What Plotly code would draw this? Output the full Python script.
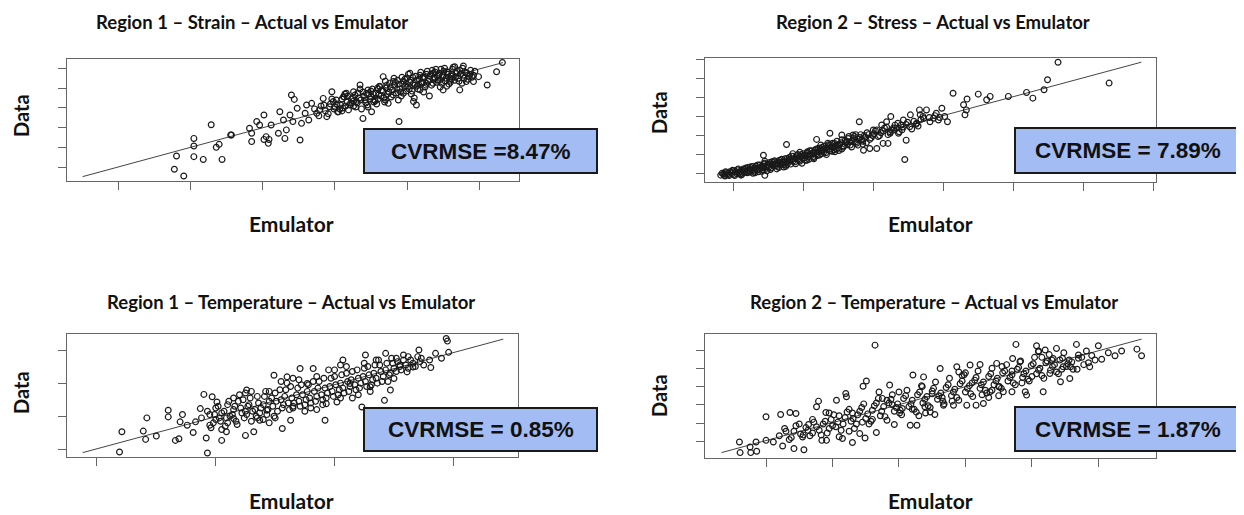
import plotly.graph_objects as go

# page has an 8px body margin, so the figure is 8px smaller on each axis and offset
OFF = 8
W, H = 1236, 507

titles = ["Region 1 – Strain – Actual vs Emulator",
          "Region 2 – Stress – Actual vs Emulator",
          "Region 1 – Temperature – Actual vs Emulator",
          "Region 2 – Temperature – Actual vs Emulator"]
cvrmse_labels = ["CVRMSE =8.47%", "CVRMSE = 7.89%", "CVRMSE = 0.85%", "CVRMSE = 1.87%"]

# (emulator, data) pairs, in tick units
strain_r1 = [
    (0.78, -0.10), (0.91, -0.44), (0.81, 0.57), (1.05, 1.46), (1.05, 1.08), (1.05, 0.54), (1.18, 0.40),
    (1.29, 2.15), (1.36, 1.01), (1.40, 1.16), (1.44, 0.40), (1.56, 1.63), (1.57, 1.63), (1.82, 1.97),
    (1.85, 1.72), (1.85, 1.30), (1.92, 2.31), (1.96, 2.14), (2.02, 2.64), (2.02, 1.41), (2.05, 1.55),
    (2.08, 1.21), (2.09, 1.41), (2.12, 2.14), (2.22, 1.72), (2.24, 2.81), (2.29, 2.39), (2.31, 1.46),
    (2.33, 1.89), (2.38, 2.64), (2.40, 3.65), (2.42, 2.31), (2.44, 3.43), (2.48, 2.98), (2.52, 1.38),
    (2.54, 2.22), (2.59, 2.73), (2.61, 3.15), (2.64, 2.39), (2.68, 3.23), (2.75, 2.73), (2.79, 2.90),
    (2.84, 3.48), (2.89, 2.56), (2.93, 3.06), (2.96, 3.82), (2.98, 3.32), (3.05, 2.81), (3.12, 3.57),
    (3.16, 3.74), (3.21, 3.15), (3.26, 3.82), (3.30, 3.32), (3.35, 4.16), (3.39, 2.47), (3.44, 3.74),
    (3.51, 2.81), (3.55, 3.40), (3.62, 4.07), (3.67, 4.58), (3.74, 3.23), (3.81, 4.33), (3.89, 2.31),
    (3.95, 3.74), (3.99, 4.24), (4.04, 4.75), (4.09, 3.32), (4.13, 3.15), (4.18, 3.91), (4.22, 4.58),
    (4.27, 4.24), (4.31, 3.60), (4.36, 4.75), (4.45, 4.41), (4.50, 3.91), (4.55, 4.83), (4.62, 4.49),
    (4.66, 5.08), (4.73, 3.91), (4.78, 5.12), (4.82, 4.33), (4.92, 4.33), (4.99, 4.58), (5.11, 4.16),
    (5.24, 4.83), (5.32, 5.29),
    (2.72, 2.95), (2.78, 2.60), (2.81, 3.10), (2.87, 2.85), (2.91, 2.70), (2.94, 3.20), (2.99, 2.95),
    (3.02, 3.40), (3.04, 2.80), (3.08, 3.15), (3.11, 3.00), (3.13, 3.55), (3.17, 3.30), (3.19, 2.90),
    (3.23, 3.45), (3.26, 3.10), (3.28, 3.65), (3.31, 3.25), (3.34, 3.50), (3.37, 2.95), (3.39, 3.80),
    (3.42, 3.40), (3.45, 3.15), (3.47, 3.70), (3.50, 3.55), (3.52, 3.95), (3.54, 3.30), (3.57, 3.75),
    (3.60, 3.45), (3.62, 4.10), (3.64, 3.60), (3.67, 3.85), (3.69, 3.30), (3.71, 4.00), (3.73, 3.70),
    (3.76, 4.25), (3.78, 3.55), (3.80, 3.90), (3.83, 4.15), (3.85, 3.75), (3.87, 4.40), (3.90, 3.95),
    (3.92, 3.60), (3.94, 4.20), (3.97, 4.45), (3.99, 3.85), (4.01, 4.05), (4.04, 4.30), (4.06, 3.70),
    (4.08, 4.55), (4.11, 4.15), (4.13, 4.40), (4.15, 3.95), (4.18, 4.65), (4.20, 4.25), (4.22, 4.50),
    (4.25, 4.05), (4.27, 4.70), (4.29, 4.35), (4.32, 4.60), (4.34, 4.15), (4.37, 4.45), (4.39, 4.80),
    (4.41, 4.30), (4.44, 4.65), (4.46, 4.05), (4.49, 4.55), (4.51, 4.85), (4.53, 4.35), (4.56, 4.70),
    (4.58, 4.20), (4.61, 4.60), (4.63, 4.95), (4.66, 4.40), (4.68, 4.75), (4.71, 4.50), (4.73, 4.90),
    (4.76, 4.25), (4.78, 4.65), (4.81, 4.80), (4.84, 4.45), (4.87, 4.70), (4.90, 4.55), (4.94, 4.85),
    (3.35, 3.95), (3.58, 3.20), (3.88, 3.40), (4.02, 4.70), (4.23, 3.80), (4.47, 4.95), (3.46, 3.05),
    (3.14, 3.70), (2.96, 3.45), (3.70, 4.35), (4.10, 3.50), (4.55, 4.10),
]
strain_r1_more = [
    (3.03, 3.20), (3.07, 2.95), (3.10, 3.45), (3.15, 3.10), (3.18, 3.60), (3.22, 3.25), (3.25, 3.50),
    (3.29, 3.05), (3.32, 3.75), (3.36, 3.40), (3.40, 3.60), (3.43, 3.25), (3.46, 3.90), (3.49, 3.45),
    (3.53, 3.70), (3.56, 3.35), (3.59, 4.00), (3.61, 3.65), (3.65, 3.90), (3.68, 3.50), (3.72, 4.15),
    (3.75, 3.80), (3.77, 4.05), (3.81, 3.65), (3.84, 4.30), (3.86, 3.95), (3.89, 4.20), (3.91, 3.80),
    (3.95, 4.35), (3.98, 4.10), (4.00, 4.50), (4.03, 3.95), (4.05, 4.40), (4.09, 4.25), (4.12, 4.60),
    (4.14, 4.10), (4.17, 4.45), (4.19, 4.80), (4.21, 4.30), (4.24, 4.55), (4.26, 4.15), (4.28, 4.85),
    (4.31, 4.45), (4.33, 4.70), (4.36, 4.25), (4.38, 4.55), (4.40, 4.95), (4.43, 4.40), (4.45, 4.75),
    (4.48, 4.25), (4.50, 4.65), (4.52, 5.00), (4.54, 4.50), (4.57, 4.80), (4.59, 4.40), (4.62, 4.70),
    (4.64, 5.05), (4.67, 4.55), (4.69, 4.85), (4.72, 4.35), (4.74, 4.70), (4.77, 5.00), (4.79, 4.50),
    (4.83, 4.75), (4.86, 4.60), (4.88, 4.90), (4.92, 4.65), (3.60, 3.95), (3.82, 4.50), (4.07, 3.85),
    (4.35, 4.90), (4.60, 4.30), (3.93, 4.55), (4.16, 4.20), (4.42, 4.60), (3.70, 3.40), (3.50, 3.85),
    (3.26, 3.35), (3.00, 3.05), (2.85, 3.15), (3.10, 2.85),
]

stress_r2 = [
    (4.64, 5.86), (5.37, 4.76), (4.49, 4.94), (4.44, 4.41), (4.19, 4.27), (4.28, 3.97), (3.93, 4.06),
    (3.67, 4.06), (3.62, 3.88), (3.50, 4.18), (3.34, 3.92), (3.29, 3.62), (3.33, 3.35), (3.31, 3.09),
    (3.14, 4.23), (3.06, 2.73), (2.98, 3.44), (2.90, 3.17), (2.76, 3.35), (2.71, 3.00), (2.66, 3.35),
    (2.53, 3.09), (2.45, 0.74), (2.47, 1.76), (2.40, 2.56), (2.36, 2.12), (2.25, 3.00), (2.24, 2.12),
    (2.21, 1.59), (2.14, 1.59), (2.05, 1.32), (1.95, 1.32), (1.86, 1.23), (1.80, 2.73), (2.00, 2.29),
    (2.12, 2.56), (2.33, 2.38), (2.52, 2.47), (2.62, 2.65), (2.67, 3.09), (2.81, 2.73), (2.86, 2.91),
    (2.93, 2.82), (3.02, 3.00), (2.19, 2.73), (2.29, 2.29), (2.43, 2.82), (1.62, 1.68), (1.71, 2.03),
    (1.55, 2.03), (1.38, 2.12), (1.19, 1.80), (0.76, 1.53), (0.43, 0.97), (0.45, -0.09),
    (-0.18, -0.08), (-0.14, -0.02), (-0.12, -0.12), (-0.10, 0.05), (-0.07, -0.05), (-0.05, 0.10),
    (-0.02, 0.00), (0.00, 0.15), (0.02, -0.10), (0.04, 0.08), (0.06, 0.20), (0.08, 0.02), (0.10, 0.12),
    (0.12, -0.05), (0.14, 0.25), (0.16, 0.10), (0.18, 0.30), (0.20, 0.05), (0.22, 0.18), (0.24, 0.35),
    (0.26, 0.15), (0.28, 0.02), (0.30, 0.28), (0.32, 0.40), (0.34, 0.20), (0.36, 0.10), (0.38, 0.45),
    (0.40, 0.30), (0.42, 0.22), (0.44, 0.50), (0.46, 0.35), (0.48, 0.15), (0.50, 0.42), (0.52, 0.58),
    (0.54, 0.30), (0.56, 0.48), (0.58, 0.62), (0.60, 0.40), (0.62, 0.25), (0.64, 0.55), (0.66, 0.70),
    (0.68, 0.45), (0.70, 0.60), (0.72, 0.35), (0.74, 0.78), (0.76, 0.55), (0.78, 0.68), (0.80, 0.85),
    (0.82, 0.50), (0.84, 0.75), (0.86, 0.92), (0.88, 0.62), (0.90, 0.80), (0.92, 1.00), (0.94, 0.70),
    (0.96, 0.88), (0.98, 0.55), (1.00, 1.05), (1.02, 0.82), (1.04, 0.95), (1.06, 1.15), (1.08, 0.75),
    (1.10, 1.00), (1.12, 1.20), (1.14, 0.90), (1.16, 1.10), (1.18, 1.28), (1.20, 0.95), (1.22, 1.15),
    (1.24, 1.35), (1.26, 1.05), (1.28, 1.25), (1.30, 1.45), (1.32, 1.10), (1.34, 1.30), (1.36, 1.52),
    (1.38, 1.20), (1.40, 1.40), (1.42, 1.60), (1.44, 1.25), (1.46, 1.45), (1.48, 1.70), (1.50, 1.35),
    (1.52, 1.55), (1.55, 1.78), (1.58, 1.45), (1.61, 1.65), (1.64, 1.85), (1.67, 1.50), (1.70, 1.72),
    (1.73, 1.95), (1.76, 1.60), (1.79, 1.82), (1.82, 2.05), (1.85, 1.70), (1.88, 1.90), (1.91, 2.15),
    (1.95, 1.80), (1.99, 2.00), (2.03, 2.25), (2.07, 1.95), (2.11, 2.15), (2.16, 2.40), (2.21, 2.05),
    (2.26, 2.30), (2.31, 2.55), (2.37, 2.20), (2.43, 2.45), (2.49, 2.70), (2.55, 2.35), (2.61, 2.60),
    (2.68, 2.85), (0.10, -0.02), (0.30, 0.12), (0.55, 0.62), (0.75, 0.45), (0.95, 1.12), (1.15, 0.85),
    (1.35, 1.60), (1.55, 1.30), (1.75, 2.05), (0.45, 0.65), (0.65, 0.32), (0.85, 1.05), (1.05, 0.70),
    (1.25, 1.50), (1.45, 1.15), (1.65, 1.95), (1.85, 1.55),
]
stress_r2_more = [
    (-0.16, 0.02), (-0.13, -0.08), (-0.11, 0.10), (-0.08, 0.00), (-0.06, -0.10), (-0.03, 0.06),
    (-0.01, 0.18), (0.01, -0.04), (0.03, 0.12), (0.05, 0.00), (0.07, 0.25), (0.09, 0.08), (0.11, -0.08),
    (0.13, 0.18), (0.15, 0.04), (0.17, 0.22), (0.19, 0.12), (0.21, 0.32), (0.23, 0.08), (0.25, 0.25),
    (0.27, 0.38), (0.29, 0.18), (0.31, 0.05), (0.33, 0.30), (0.35, 0.45), (0.37, 0.22), (0.39, 0.35),
    (0.41, 0.12), (0.43, 0.40), (0.45, 0.55), (0.47, 0.28), (0.49, 0.48), (0.51, 0.35), (0.53, 0.22),
    (0.55, 0.52), (0.57, 0.40), (0.59, 0.68), (0.61, 0.50), (0.63, 0.38), (0.65, 0.62), (0.67, 0.52),
    (0.69, 0.75), (0.71, 0.48), (0.73, 0.62), (0.75, 0.38), (0.77, 0.80), (0.79, 0.58), (0.81, 0.72),
    (0.83, 0.92), (0.85, 0.65), (0.87, 0.80), (0.89, 0.52), (0.91, 0.95), (0.93, 0.78), (0.95, 0.65),
    (0.97, 1.00), (0.99, 0.82), (1.01, 0.95), (1.03, 0.70), (1.05, 1.08), (1.07, 0.88), (1.09, 1.20),
    (1.11, 0.95), (1.13, 1.08), (1.15, 0.78), (1.17, 1.22), (1.19, 1.05), (1.21, 1.32), (1.23, 0.98),
    (1.25, 1.20), (1.27, 1.38), (1.29, 1.12), (1.31, 1.30), (1.33, 1.00), (1.35, 1.42), (1.37, 1.28),
    (1.39, 1.52), (1.41, 1.18), (1.43, 1.38), (1.45, 1.58), (1.47, 1.30), (1.49, 1.50), (1.51, 1.22),
    (1.54, 1.62), (1.57, 1.40), (1.60, 1.75), (1.63, 1.52), (1.66, 1.68), (1.69, 1.40), (1.72, 1.85),
    (1.75, 1.68), (1.78, 1.50), (1.81, 1.90), (1.84, 1.78), (1.87, 2.00), (1.90, 1.62), (1.93, 2.05),
    (1.97, 1.88), (2.01, 2.10), (2.05, 2.30), (2.09, 2.00), (2.14, 2.25), (2.19, 2.45), (2.24, 2.20),
    (2.29, 2.40), (2.35, 2.65), (2.41, 2.30), (2.47, 2.58), (2.58, 2.75), (2.64, 2.50), (2.72, 2.90),
    (2.80, 2.95), (2.88, 3.05), (2.95, 2.95),
]

temp_r1 = [
    (0.19, -0.08), (0.21, 0.53), (0.39, 0.55), (0.41, 0.30), (0.42, 0.95), (0.50, 0.40), (0.60, 1.18),
    (0.60, 0.98), (0.66, 0.27), (0.69, 0.32), (0.70, 0.83), (0.72, 1.05), (0.76, 0.73), (0.81, 0.51),
    (0.83, 0.83), (0.87, 1.23), (0.90, 1.66), (0.93, -0.11), (0.92, 0.34), (0.95, 0.73), (0.97, 1.59),
    (1.01, 1.43), (1.05, 0.27), (1.09, 0.53), (1.15, 0.93), (1.25, 0.42), (1.26, 1.79), (1.32, 0.53),
    (1.37, 0.88), (1.43, 1.18), (1.49, 2.24), (1.56, 0.63), (1.60, 2.19), (1.63, 0.88), (1.71, 2.44),
    (1.77, 1.99), (1.82, 2.44), (1.92, 0.88), (1.93, 1.38), (2.02, 1.43), (2.07, 2.70), (2.13, 1.99),
    (2.23, 1.28), (2.26, 2.85), (2.30, 1.89), (2.37, 2.70), (2.42, 1.48), (2.43, 2.90), (2.47, 1.79),
    (2.52, 2.75), (2.58, 2.85), (2.61, 2.34), (2.62, 2.80), (2.66, 2.49), (2.71, 3.00), (2.73, 2.75),
    (2.81, 2.47), (2.94, 3.35), (2.95, 3.27), (2.96, 2.93), (2.50, 2.14), (2.55, 2.55),
    (0.95, 1.05), (0.98, 0.80), (1.00, 1.25), (1.03, 0.95), (1.05, 1.10), (1.08, 0.70), (1.10, 1.35),
    (1.12, 1.00), (1.15, 1.20), (1.17, 0.85), (1.19, 1.45), (1.22, 1.10), (1.24, 0.95), (1.27, 1.30),
    (1.29, 1.55), (1.31, 1.15), (1.34, 1.00), (1.36, 1.40), (1.38, 1.25), (1.41, 1.60), (1.43, 1.05),
    (1.45, 1.45), (1.48, 1.30), (1.50, 1.70), (1.52, 1.15), (1.55, 1.50), (1.57, 1.35), (1.59, 1.80),
    (1.62, 1.20), (1.64, 1.55), (1.66, 1.40), (1.69, 1.85), (1.71, 1.30), (1.73, 1.65), (1.76, 1.50),
    (1.78, 1.95), (1.80, 1.40), (1.83, 1.75), (1.85, 1.60), (1.87, 2.05), (1.90, 1.50), (1.92, 1.85),
    (1.94, 1.70), (1.97, 2.15), (1.99, 1.60), (2.01, 1.95), (2.04, 1.80), (2.06, 2.25), (2.08, 1.70),
    (2.11, 2.05), (2.13, 1.90), (2.15, 2.35), (2.18, 1.80), (2.20, 2.15), (2.22, 2.00), (2.25, 2.45),
    (2.27, 1.90), (2.29, 2.25), (2.32, 2.10), (2.34, 2.55), (2.36, 2.00), (2.39, 2.35), (2.41, 2.20),
    (2.44, 2.60), (2.47, 2.30), (2.50, 2.45), (2.53, 2.65), (2.56, 2.40), (2.60, 2.55), (2.64, 2.70),
    (2.68, 2.50), (2.72, 2.65), (1.20, 1.65), (1.40, 0.90), (1.60, 2.00), (1.80, 1.25), (2.00, 2.40),
    (2.20, 1.65), (1.10, 0.80), (1.30, 1.75), (1.50, 0.95), (1.70, 2.10), (1.90, 1.35), (2.10, 2.50),
    (2.30, 1.75), (2.48, 2.75), (1.00, 0.90), (1.25, 1.15), (1.45, 1.75), (1.65, 1.25), (1.85, 2.20),
    (2.05, 1.55), (2.25, 2.60), (2.45, 2.05),
]
temp_r1_more = [
    (0.88, 0.95), (0.93, 1.15), (0.96, 0.65), (0.99, 1.05), (1.02, 1.30), (1.04, 0.85), (1.07, 1.15),
    (1.09, 0.95), (1.11, 1.45), (1.14, 1.05), (1.16, 1.30), (1.18, 0.75), (1.21, 1.25), (1.23, 1.50),
    (1.26, 1.05), (1.28, 1.35), (1.30, 0.85), (1.33, 1.20), (1.35, 1.60), (1.37, 1.10), (1.40, 1.35),
    (1.42, 1.75), (1.44, 1.20), (1.47, 1.55), (1.49, 1.00), (1.51, 1.45), (1.54, 1.80), (1.56, 1.25),
    (1.58, 1.60), (1.61, 1.40), (1.63, 1.90), (1.65, 1.30), (1.68, 1.65), (1.70, 1.45), (1.72, 1.95),
    (1.75, 1.35), (1.77, 1.75), (1.79, 1.55), (1.82, 2.05), (1.84, 1.45), (1.86, 1.85), (1.89, 1.65),
    (1.91, 2.15), (1.93, 1.55), (1.96, 1.90), (1.98, 1.75), (2.00, 2.20), (2.03, 1.65), (2.05, 2.00),
    (2.07, 1.85), (2.10, 2.30), (2.12, 1.75), (2.14, 2.10), (2.17, 1.95), (2.19, 2.40), (2.21, 1.85),
    (2.24, 2.20), (2.26, 2.05), (2.28, 2.50), (2.31, 1.95), (2.33, 2.30), (2.35, 2.15), (2.38, 2.55),
    (2.40, 2.05), (2.43, 2.40), (2.46, 2.25), (2.49, 2.60), (2.52, 2.35), (2.55, 2.50), (2.58, 2.70),
    (2.62, 2.45), (2.66, 2.60), (2.70, 2.80), (2.75, 2.55), (2.80, 2.70), (2.85, 2.90), (2.90, 2.75),
    (1.15, 1.55), (1.35, 0.95), (1.55, 2.05), (1.75, 1.15), (1.95, 2.40), (2.15, 1.55), (2.35, 2.70),
    (1.05, 0.60), (1.25, 1.70), (1.45, 0.80), (1.65, 2.15), (1.85, 1.20), (2.05, 2.55),
]

temp_r2 = [
    (-0.40, -0.04), (-0.39, -0.62), (-0.24, -0.31), (-0.23, -0.62), (-0.14, -0.55), (-0.15, -0.04),
    (0.00, 1.34), (0.00, 0.05), (0.11, -0.04), (0.22, 1.47), (0.25, -0.26), (0.36, 1.58), (0.42, -0.40),
    (0.45, 1.52), (0.57, -0.46), (0.55, 0.24), (0.64, 0.92), (0.76, 1.89), (0.79, 2.20), (0.84, 0.05),
    (0.90, 1.58), (0.91, 0.05), (1.06, 2.25), (1.15, 0.15), (1.20, 2.62), (1.21, 2.44), (1.30, -0.07),
    (1.41, 0.42), (1.49, 0.18), (1.51, 3.30), (1.46, 3.02), (1.64, 5.27), (1.66, 0.48), (1.82, 2.25),
    (1.86, 3.08), (1.93, 0.92), (2.02, 1.70), (2.17, 0.88), (2.21, 3.63), (2.27, 0.88), (2.37, 3.53),
    (2.39, 1.89), (2.47, 1.61), (2.54, 1.47), (2.62, 3.99), (2.67, 1.98), (2.82, 1.98), (2.87, 4.08),
    (3.02, 1.98), (3.07, 4.18), (3.16, 1.98), (3.22, 4.21), (3.27, 2.07), (3.37, 2.71), (3.47, 4.27),
    (3.50, 2.99), (3.57, 2.71), (3.70, 2.71), (3.71, 4.54), (3.76, 5.31), (3.82, 4.36), (3.90, 2.71),
    (3.92, 2.53), (4.07, 5.24), (4.10, 4.91), (4.17, 2.71), (4.20, 5.00), (4.27, 3.72), (4.37, 5.09),
    (4.43, 3.26), (4.47, 4.08), (4.57, 3.44), (4.58, 4.08), (4.67, 5.31), (4.70, 4.73), (4.82, 4.95),
    (4.87, 4.08), (4.95, 4.45), (5.00, 5.24), (5.25, 4.69), (5.35, 4.95), (5.58, 5.05), (5.65, 4.69),
    (4.56, 4.45), (4.32, 4.54),
    (0.30, 0.55), (0.38, 0.20), (0.45, 0.85), (0.52, 0.40), (0.60, 0.75), (0.66, 0.30), (0.72, 1.05),
    (0.80, 0.60), (0.86, 0.95), (0.92, 0.45), (0.98, 1.20), (1.05, 0.80), (1.10, 1.40), (1.16, 0.95),
    (1.22, 1.60), (1.28, 1.10), (1.33, 0.70), (1.38, 1.45), (1.44, 1.85), (1.50, 1.25), (1.55, 0.95),
    (1.60, 1.70), (1.66, 2.10), (1.72, 1.40), (1.77, 1.90), (1.82, 1.15), (1.88, 2.30), (1.93, 1.65),
    (1.98, 2.05), (2.04, 1.45), (2.10, 2.50), (2.15, 1.90), (2.20, 2.25), (2.26, 1.60), (2.31, 2.70),
    (2.36, 2.10), (2.42, 2.45), (2.47, 1.85), (2.52, 2.90), (2.58, 2.30), (2.63, 2.65), (2.68, 2.05),
    (2.74, 3.10), (2.79, 2.50), (2.84, 2.85), (2.90, 2.25), (2.95, 3.30), (3.00, 2.70), (3.06, 3.05),
    (3.11, 2.45), (3.16, 3.50), (3.22, 2.90), (3.27, 3.25), (3.32, 2.65), (3.38, 3.70), (3.43, 3.10),
    (3.48, 3.45), (3.54, 2.90), (3.59, 3.85), (3.64, 3.30), (3.70, 3.65), (3.75, 3.10), (3.80, 4.05),
    (3.86, 3.50), (3.91, 3.85), (3.96, 3.30), (4.02, 4.25), (4.07, 3.70), (4.12, 4.00), (4.18, 3.45),
    (4.23, 4.40), (4.28, 3.90), (4.34, 4.20), (4.40, 3.70), (4.46, 4.55), (4.52, 4.10), (4.60, 4.35),
    (4.68, 3.95), (4.75, 4.60), (4.85, 4.30), (0.70, 0.45), (1.00, 0.85), (1.30, 1.55), (1.60, 1.20),
    (1.90, 2.00), (2.20, 1.75), (2.50, 2.60), (2.80, 2.20), (3.10, 3.20), (3.40, 2.80), (3.70, 3.85),
    (4.00, 3.55), (4.30, 4.45), (1.45, 1.05), (1.75, 2.35), (2.05, 1.80), (2.35, 3.00), (2.65, 2.40),
    (2.95, 3.60), (3.25, 2.55), (3.55, 4.10), (3.85, 3.20), (4.15, 4.60), (4.45, 3.95), (0.95, 1.55),
    (1.25, 0.55), (2.00, 2.70), (2.40, 1.55), (3.00, 3.75), (3.35, 2.40),
]
temp_r2_more = [
    (0.20, 0.30), (0.28, 0.70), (0.35, 0.10), (0.42, 0.55), (0.50, 0.95), (0.56, 0.35), (0.63, 0.60),
    (0.70, 1.20), (0.76, 0.80), (0.83, 0.35), (0.89, 1.10), (0.95, 0.70), (1.02, 1.45), (1.08, 1.05),
    (1.13, 0.60), (1.19, 1.30), (1.25, 1.75), (1.31, 1.25), (1.36, 0.95), (1.41, 1.65), (1.47, 2.05),
    (1.53, 1.50), (1.58, 1.10), (1.63, 1.95), (1.69, 2.35), (1.74, 1.65), (1.79, 1.35), (1.85, 2.10),
    (1.90, 2.55), (1.96, 1.85), (2.01, 1.55), (2.07, 2.35), (2.12, 2.80), (2.18, 2.05), (2.23, 1.75),
    (2.28, 2.55), (2.34, 3.05), (2.39, 2.30), (2.44, 1.95), (2.50, 2.75), (2.55, 3.25), (2.60, 2.50),
    (2.66, 2.20), (2.71, 2.95), (2.76, 3.45), (2.82, 2.70), (2.87, 2.40), (2.92, 3.15), (2.98, 3.65),
    (3.03, 2.90), (3.08, 2.60), (3.14, 3.35), (3.19, 3.85), (3.24, 3.10), (3.30, 2.80), (3.35, 3.55),
    (3.40, 4.00), (3.46, 3.30), (3.51, 3.00), (3.56, 3.75), (3.62, 4.20), (3.67, 3.50), (3.72, 3.20),
    (3.78, 3.95), (3.83, 4.40), (3.88, 3.70), (3.94, 3.40), (3.99, 4.15), (4.04, 4.60), (4.10, 3.90),
    (4.15, 3.60), (4.21, 4.30), (4.26, 4.75), (4.31, 4.10), (4.37, 3.80), (4.42, 4.45), (4.48, 4.85),
    (4.54, 4.25), (4.62, 3.95), (4.70, 4.55), (4.78, 4.20), (4.90, 4.70), (5.05, 4.50), (5.15, 4.85),
    (1.10, 0.25), (1.70, 2.70), (2.30, 1.40), (2.90, 3.80), (3.50, 2.50), (4.10, 4.95),
]

# fitted line end points (emulator, data)
fit_x = [[-0.49, 5.33], [-0.17, 5.83], [-0.12, 3.42], [-0.67, 5.65]]
fit_y = [[-0.47, 5.29], [-0.09, 5.86], [-0.10, 3.33], [-0.62, 5.60]]

x_ticks = [[0, 1, 2, 3, 4, 5], [0, 1, 2, 3, 4, 5, 6], [0, 1, 2, 3], [0, 1, 2, 3, 4, 5]]
y_ticks = [[0, 1, 2, 3, 4, 5], [0, 1, 2, 3, 4, 5, 6], [0, 1, 2, 3], [0, 1, 2, 3, 4, 5]]

datasets = [strain_r1 + strain_r1_more, stress_r2 + stress_r2_more,
            temp_r1 + temp_r1_more, temp_r2 + temp_r2_more]

# layout geometry (window pixels)
x_ranges = [[-0.706, 5.55], [-0.405, 6.04], [-0.252, 3.544], [-0.918, 5.867]]
y_ranges = [[-0.69, 5.47], [-0.44, 6.08], [-0.232, 3.485], [-0.916, 5.88]]
boxes_px = [(67, 519, 59, 181), (705, 1156, 58, 182), (67, 518, 334, 457), (705, 1156, 334, 458)]
title_px = [(252, 22), (933, 22), (291, 302), (934, 302)]
ylab_px = [(21, 116), (659, 113), (21, 393), (659, 396)]
xlab_px = [(291, 224), (930, 224), (291, 500), (930, 500)]
cv_box_px = [(364, 597, 129, 173), (1015, 1241, 128, 173), (364, 597, 408, 451), (1015, 1241, 407, 451)]

fig = go.Figure()
annotations = []
shapes = []


def px(x):
    return (x - OFF) / W


def py(y):
    return 1 - (y - OFF) / H


for i, pts in enumerate(datasets):
    n = i + 1
    xa = "x" if n == 1 else f"x{n}"
    ya = "y" if n == 1 else f"y{n}"
    ex = [p[0] for p in pts]
    dy = [p[1] for p in pts]
    fig.add_trace(go.Scatter(x=fit_x[i], y=fit_y[i], mode="lines",
                             line=dict(color="#444444", width=1), xaxis=xa, yaxis=ya,
                             showlegend=False, hoverinfo="skip"))
    fig.add_trace(go.Scatter(x=ex, y=dy, mode="markers",
                             marker=dict(symbol="circle-open", size=5.8, color="#1a1a1a",
                                         line=dict(width=1.2, color="#1a1a1a")),
                             xaxis=xa, yaxis=ya, showlegend=False))
    l, r, t, b = boxes_px[i]
    axstyle = dict(showline=True, mirror=True, linecolor="#666666", linewidth=1,
                   ticks="outside", ticklen=8, tickcolor="#666666", tickwidth=1,
                   showticklabels=False, showgrid=False, zeroline=False, fixedrange=True)
    fig.update_layout(**{
        ("xaxis" if n == 1 else f"xaxis{n}"): dict(domain=[px(l), px(r)], range=x_ranges[i],
                                                   tickvals=x_ticks[i], anchor=ya, **axstyle),
        ("yaxis" if n == 1 else f"yaxis{n}"): dict(domain=[py(b), py(t)], range=y_ranges[i],
                                                   tickvals=y_ticks[i], anchor=xa, **axstyle),
    })
    tx, ty = title_px[i]
    annotations.append(dict(x=px(tx), y=py(ty), xref="paper", yref="paper", showarrow=False,
                            text=f"<b>{titles[i]}</b>", xanchor="center", yanchor="middle",
                            font=dict(family="Lato", size=18.5, color="#111111")))
    lx, ly = ylab_px[i]
    annotations.append(dict(x=px(lx), y=py(ly), xref="paper", yref="paper", showarrow=False,
                            text="<b>Data</b>", textangle=-90, xanchor="center", yanchor="middle",
                            font=dict(family="Lato", size=20, color="#111111")))
    ex_, ey_ = xlab_px[i]
    annotations.append(dict(x=px(ex_), y=py(ey_), xref="paper", yref="paper", showarrow=False,
                            text="<b>Emulator</b>", xanchor="center", yanchor="middle",
                            font=dict(family="Lato", size=21, color="#111111")))
    cl, cr, ct, cb = cv_box_px[i]
    shapes.append(dict(type="rect", xref="paper", yref="paper", x0=px(cl), x1=px(cr),
                       y0=py(cb), y1=py(ct), fillcolor="#a3bcf3",
                       line=dict(color="#1a1a1a", width=2), layer="above"))
    annotations.append(dict(x=px((cl + cr) / 2), y=py((ct + cb) / 2), xref="paper", yref="paper",
                            showarrow=False, text=f"<b>{cvrmse_labels[i]}</b>",
                            xanchor="center", yanchor="middle",
                            font=dict(family="Liberation Sans", size=22.5, color="#111111")))

fig.update_layout(width=W, height=H, autosize=False,
                  margin=dict(l=0, r=0, t=0, b=0),
                  paper_bgcolor="white", plot_bgcolor="white",
                  annotations=annotations, shapes=shapes, showlegend=False)

fig.write_html("out.html")
